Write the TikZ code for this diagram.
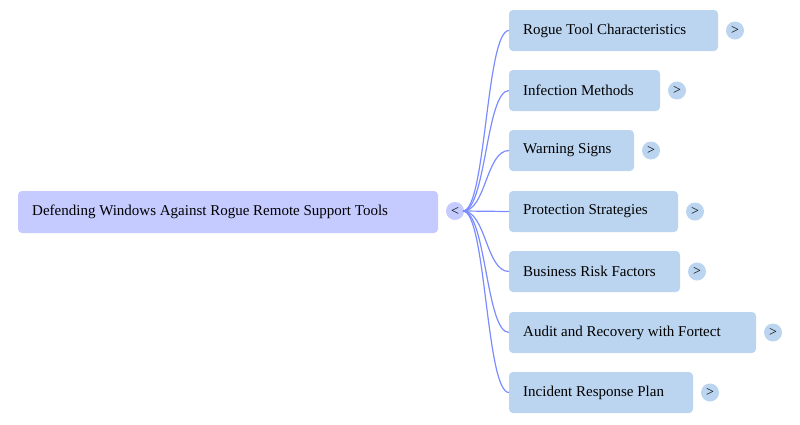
\documentclass[tikz,border=0pt]{standalone}
\usepackage{fontspec}
\setmainfont{Liberation Serif}
\definecolor{rootfill}{HTML}{C5CAFF}
\definecolor{childfill}{HTML}{BBD5F0}
\definecolor{edgecol}{HTML}{7B8CFF}
\tikzset{
  box/.style={rounded corners=4pt, inner sep=0pt, font=\fontsize{15pt}{17pt}\selectfont},
  tog/.style={circle, minimum size=18pt, inner sep=0pt, font=\fontsize{14pt}{15pt}\selectfont},
  link/.style={draw=edgecol, line width=1.2pt},
}
\begin{document}
\begin{tikzpicture}[x=1pt,y=-1pt]
\useasboundingbox (0,0) rectangle (800,424);
% root
\fill[rootfill, rounded corners=4pt] (18,191) rectangle (438,233);
\node[anchor=west, box] (root) at (32,211.5) {Defending Windows Against Rogue Remote Support Tools};
\node[tog, fill=rootfill] (rt) at (455,211) {<};
\coordinate (s) at (463,211);
% children
\foreach \i/\r/\yt/\t in {1/718/10/Rogue Tool Characteristics,
  2/660/70/Infection Methods,
  3/634/130/Warning Signs,
  4/678/191/Protection Strategies,
  5/680/251/Business Risk Factors,
  6/756/312/Audit and Recovery with Fortect,
  7/693/372/Incident Response Plan}{
  \pgfmathsetmacro{\yc}{\yt+20.5}
  \fill[childfill, rounded corners=4pt] (509,\yt) rectangle (\r,\yt+41);
  \coordinate (c\i) at (509,\yc);
  \node[anchor=west, box] (t\i) at (523,\yc) {\t};
  \node[tog, fill=childfill] (g\i) at (\r+17,\yc) {>};
  \draw[link] (s) .. controls (486,211) and (486,\yc) .. (c\i);
}
\end{tikzpicture}
\end{document}
